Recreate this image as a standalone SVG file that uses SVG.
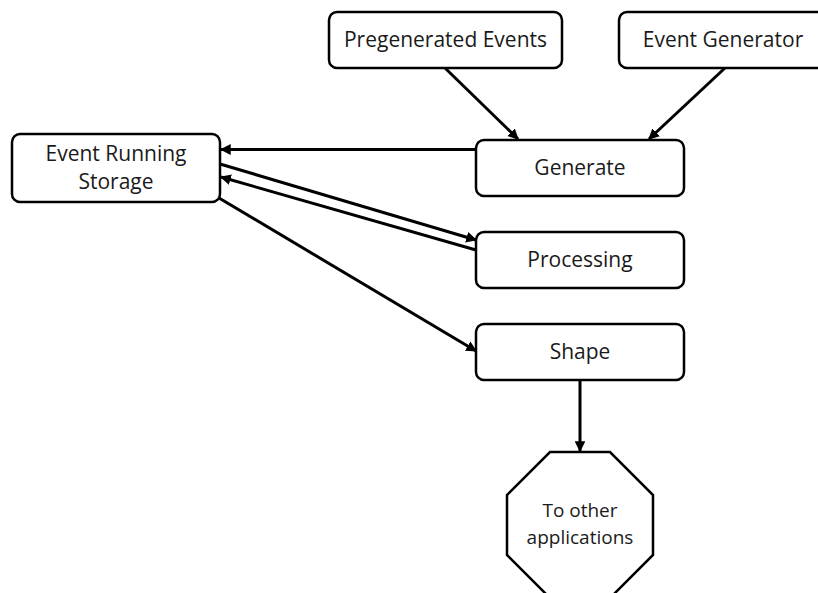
<svg xmlns="http://www.w3.org/2000/svg" width="818" height="593" viewBox="0 0 818 593">
<defs>
<style>
.box{fill:#fff;stroke:#000;stroke-width:2.5}
.t{font-family:"Open Sans","Noto Sans","Liberation Sans",sans-serif;font-size:21px;fill:#1a1a1a;text-anchor:middle}
.ts{font-size:19px}
.c{stroke:#000;stroke-width:3;fill:none;marker-end:url(#ah)}
</style>
<marker id="ah" viewBox="0 0 10 10" refX="9" refY="5" markerWidth="3.6" markerHeight="3.6" orient="auto" markerUnits="strokeWidth">
<path d="M0,0 L10,5 L0,10 z" fill="#000"/>
</marker>
</defs>
<rect width="818" height="593" fill="#fff"/>
<g id="connectors">
<line class="c" x1="445" y1="68" x2="518" y2="139"/>
<line class="c" x1="725" y1="68" x2="649" y2="139"/>
<line class="c" x1="476" y1="149.5" x2="221" y2="149.5"/>
<line class="c" x1="220" y1="164" x2="476" y2="240"/>
<line class="c" x1="476" y1="250" x2="221" y2="177"/>
<line class="c" x1="219" y1="198" x2="476" y2="351"/>
<line class="c" x1="580" y1="380" x2="580" y2="451"/>
</g>
<g id="event-running-storage">
<rect class="box" x="12" y="134" width="208" height="68" rx="8"/>
<text class="t" x="116" y="161">Event Running</text>
<text class="t" x="116" y="189">Storage</text>
</g>
<g id="pregenerated-events">
<rect class="box" x="329" y="12" width="233" height="56" rx="8"/>
<text class="t" x="445.5" y="47">Pregenerated Events</text>
</g>
<g id="event-generator">
<rect class="box" x="619" y="12" width="208" height="56" rx="8"/>
<text class="t" x="723" y="47">Event Generator</text>
</g>
<g id="generate">
<rect class="box" x="476" y="140" width="208" height="56" rx="8"/>
<text class="t" x="580" y="175">Generate</text>
</g>
<g id="processing">
<rect class="box" x="476" y="232" width="208" height="56" rx="8"/>
<text class="t" x="580" y="267">Processing</text>
</g>
<g id="shape">
<rect class="box" x="476" y="324" width="208" height="56" rx="8"/>
<text class="t" x="580" y="359">Shape</text>
</g>
<g id="to-other-applications">
<polygon class="box" points="550,452 610,452 653,495 653,555 610,598 550,598 507,555 507,495"/>
<text class="t ts" x="580" y="517">To other</text>
<text class="t ts" x="580" y="544">applications</text>
</g>
</svg>
